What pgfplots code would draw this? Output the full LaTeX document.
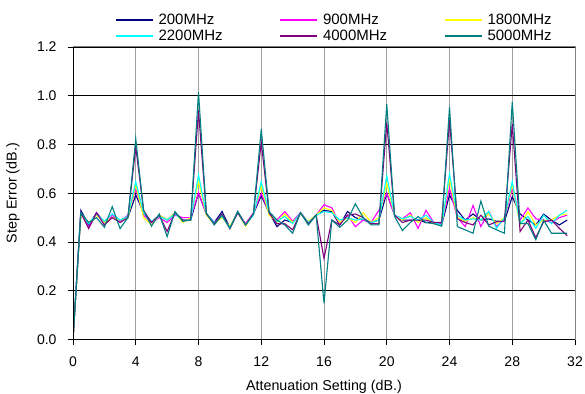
\documentclass[border=0pt]{standalone}
\usepackage{pgfplots}
\pgfplotsset{compat=1.18}
\usepackage{pgfplotstable}
\usepackage{fontspec}
\setmainfont{Liberation Sans}
\definecolor{cNavy}{rgb}{0,0,0.5}
\definecolor{cMag}{rgb}{1,0,1}
\definecolor{cYel}{rgb}{1,1,0}
\definecolor{cCyan}{rgb}{0,1,1}
\definecolor{cPurp}{rgb}{0.5,0,0.5}
\definecolor{cTeal}{rgb}{0,0.5,0.5}
\pgfplotstableread{
x    a     b     c     d     e     f
0    0     0     0     0     0     0
0.5  0.53  0.52  0.51  0.52  0.52  0.52
1.0  0.47  0.46  0.48  0.475 0.455 0.48
1.5  0.52  0.52  0.51  0.515 0.52  0.50
2.0  0.48  0.47  0.48  0.485 0.47  0.46
2.5  0.50  0.51  0.50  0.515 0.50  0.545
3.0  0.49  0.485 0.49  0.49  0.48  0.455
3.5  0.50  0.51  0.50  0.505 0.50  0.50
4.0  0.593 0.62  0.635 0.648 0.79  0.823
4.5  0.52  0.51  0.50  0.52  0.53  0.53
5.0  0.48  0.48  0.47  0.485 0.48  0.465
5.5  0.51  0.50  0.51  0.505 0.51  0.515
6.0  0.49  0.48  0.49  0.49  0.443 0.422
6.5  0.52  0.51  0.52  0.515 0.52  0.525
7.0  0.49  0.50  0.48  0.49  0.49  0.485
7.5  0.49  0.50  0.50  0.49  0.49  0.49
8.0  0.60  0.603 0.65  0.675 0.94  1.015
8.5  0.515 0.515 0.51  0.515 0.515 0.52
9.0  0.48  0.48  0.475 0.48  0.475 0.47
9.5  0.525 0.505 0.50  0.505 0.515 0.51
10.0 0.46  0.46  0.465 0.46  0.455 0.455
10.5 0.525 0.52  0.52  0.52  0.52  0.525
11.0 0.47  0.475 0.465 0.47  0.47  0.47
11.5 0.515 0.52  0.515 0.51  0.515 0.515
12.0 0.59  0.60  0.63  0.648 0.81  0.863
12.5 0.52  0.52  0.51  0.52  0.52  0.525
13.0 0.463 0.49  0.48  0.485 0.475 0.49
13.5 0.49  0.525 0.515 0.505 0.475 0.47
14.0 0.48  0.485 0.48  0.475 0.45  0.436
14.5 0.52  0.52  0.515 0.52  0.52  0.52
15.0 0.48  0.48  0.485 0.48  0.475 0.47
15.5 0.51  0.51  0.51  0.51  0.51  0.51
16.0 0.53  0.553 0.54  0.525 0.333 0.149
16.5 0.525 0.54  0.53  0.52  0.49  0.49
17.0 0.47  0.475 0.48  0.49  0.47  0.46
17.5 0.525 0.51  0.50  0.50  0.51  0.49
18.0 0.50  0.463 0.48  0.49  0.515 0.557
18.5 0.49  0.49  0.52  0.495 0.50  0.50
19.0 0.48  0.48  0.48  0.48  0.475 0.47
19.5 0.49  0.53  0.50  0.49  0.475 0.47
20.0 0.60  0.60  0.64  0.671 0.89  0.966
20.5 0.51  0.51  0.51  0.51  0.51  0.505
21.0 0.49  0.495 0.49  0.495 0.48  0.447
21.5 0.49  0.52  0.51  0.505 0.49  0.48
22.0 0.49  0.456 0.48  0.49  0.49  0.504
22.5 0.48  0.53  0.50  0.51  0.49  0.48
23.0 0.48  0.48  0.475 0.48  0.48  0.475
23.5 0.47  0.475 0.47  0.47  0.48  0.465
24.0 0.593 0.62  0.66  0.68  0.90  0.953
24.5 0.53  0.50  0.50  0.51  0.495 0.463
25.0 0.49  0.463 0.485 0.49  0.48  0.45
25.5 0.515 0.55  0.50  0.495 0.47  0.436
26.0 0.49  0.463 0.49  0.49  0.51  0.568
26.5 0.495 0.525 0.515 0.525 0.47  0.465
27.0 0.485 0.463 0.475 0.456 0.483 0.45
27.5 0.485 0.495 0.50  0.50  0.485 0.436
28.0 0.586 0.62  0.635 0.648 0.884 0.975
28.5 0.515 0.49  0.47  0.475 0.443 0.476
29.0 0.49  0.54  0.525 0.505 0.49  0.476
29.5 0.47  0.495 0.47  0.456 0.418 0.409
30.0 0.514 0.49  0.49  0.51  0.483 0.49
30.5 0.49  0.48  0.49  0.475 0.49  0.436
31.0 0.47  0.50  0.51  0.51  0.456 0.436
31.5 0.49  0.51  0.515 0.53  0.426 0.436
}\datatable
\begin{document}
\begin{tikzpicture}
\begin{axis}[
  scale only axis,
  width=502bp, height=292.5bp,
  xmin=0, xmax=32, ymin=0, ymax=1.2,
  xtick={0,4,...,32},
  ytick={0,0.2,...,1.2},
  xtick pos=left, ytick pos=left,
  tick align=outside,
  major tick length=5bp,
  tick style={black, line width=0.8bp},
  grid=major,
  x grid style={gray!75, line width=0.8bp},
  y grid style={black, line width=0.8bp},
  axis line style={gray, line width=1bp},
  font=\fontsize{14bp}{16bp}\selectfont,
  /pgf/number format/assume math mode=true,
  yticklabel style={/pgf/number format/fixed, /pgf/number format/fixed zerofill, /pgf/number format/precision=1, xshift=-8bp},
  xticklabel style={yshift=-9bp},
  scaled y ticks=false,
  xlabel={Attenuation Setting (dB.)},
  ylabel={Step Error (dB.)},
  xlabel style={at={(axis description cs:0.5,-0.173)}, anchor=base, font=\fontsize{14.3bp}{16bp}\selectfont},
  ylabel style={at={(axis description cs:-0.1195,0.5)}, anchor=center, font=\fontsize{14.3bp}{16bp}\selectfont},
  legend columns=3,
  legend cell align=left,
  legend style={draw=none, fill=none, at={(axis description cs:0.0837,1.113)}, anchor=north west,
    font=\fontsize{15bp}{17bp}\selectfont, inner sep=0bp, row sep=4bp,
    nodes={inner sep=0bp},
    /tikz/every odd column/.append style={column sep=5bp},
    /tikz/every even column/.append style={column sep=57bp}},
  legend image code/.code={\draw[#1, line width=1.3bp] (0bp,0bp) -- (37bp,0bp);},
  every axis plot/.append style={line width=1.1bp},
]
\addplot[cNavy, no markers] table[x=x, y=a] {\datatable};
\addlegendentry{200MHz}
\addplot[cMag, no markers] table[x=x, y=b] {\datatable};
\addlegendentry{900MHz}
\addplot[cYel, no markers] table[x=x, y=c] {\datatable};
\addlegendentry{1800MHz}
\addplot[cCyan, no markers] table[x=x, y=d] {\datatable};
\addlegendentry{2200MHz}
\addplot[cPurp, no markers] table[x=x, y=e] {\datatable};
\addlegendentry{4000MHz}
\addplot[cTeal, no markers] table[x=x, y=f] {\datatable};
\addlegendentry{5000MHz}
\draw[black, line width=1.2bp] (rel axis cs:0,1) -- (rel axis cs:0,0) -- (rel axis cs:1,0);
\coordinate (sw) at (rel axis cs:0,0);
\coordinate (ne) at (rel axis cs:1,1);
\end{axis}
\pgfresetboundingbox
\path ([shift={(-73bp,-54.5bp)}]sw) rectangle ([shift={(10bp,47bp)}]ne);
\end{tikzpicture}
\end{document}
